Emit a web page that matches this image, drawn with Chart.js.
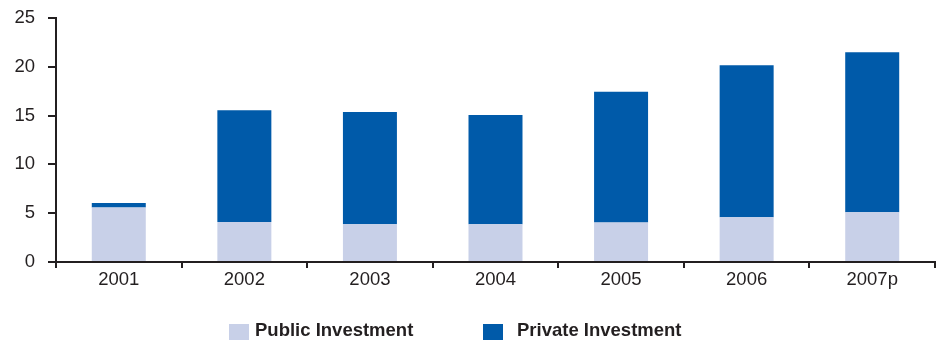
<!DOCTYPE html>
<html>
<head>
<meta charset="utf-8">
<script src="https://cdn.jsdelivr.net/npm/chart.js@4/dist/chart.umd.min.js"></script>
<style>
  html, body { margin: 0; padding: 0; background: #fff; }
  #wrap { width: 943px; height: 343px; }
</style>
</head>
<body>
<div id="wrap"><canvas id="invChart" width="943" height="343"></canvas></div>
<script>
const years = ['2001', '2002', '2003', '2004', '2005', '2006', '2007p'];
const publicInvestment = [5.58, 4.10, 3.87, 3.87, 4.04, 4.58, 5.10];
const privateInvestment = [0.47, 11.46, 11.51, 11.18, 13.40, 15.59, 16.40];
const yTicks = [0, 5, 10, 15, 20, 25];

const ink = '#231f20';
const fontFamily = '"Liberation Sans", Arial, sans-serif';

// legend drawn by hand so the two entries sit where we want them
const bottomLegend = {
  id: 'bottomLegend',
  afterDraw(chart) {
    const ctx = chart.ctx;
    const slots = [229, 483];
    const textGap = [26, 34];
    ctx.save();
    ctx.font = 'bold 18.5px ' + fontFamily;
    ctx.textBaseline = 'middle';
    chart.data.datasets.forEach((ds, i) => {
      const x = slots[i];
      const y = 331;
      ctx.fillStyle = ds.backgroundColor;
      ctx.fillRect(x, y - 7, 20, 16);
      ctx.fillStyle = ink;
      ctx.fillText(ds.label, x + textGap[i], y);
    });
    ctx.restore();
  }
};

new Chart(document.getElementById('invChart').getContext('2d'), {
  type: 'bar',
  data: {
    labels: years,
    datasets: [
      {
        label: 'Public Investment',
        data: publicInvestment,
        backgroundColor: '#c8d0e8',
        categoryPercentage: 1,
        barPercentage: 0.43
      },
      {
        label: 'Private Investment',
        data: privateInvestment,
        backgroundColor: '#005aa9',
        categoryPercentage: 1,
        barPercentage: 0.43
      }
    ]
  },
  options: {
    responsive: false,
    animation: false,
    layout: { padding: { top: 18, right: 8, bottom: 44, left: 0 } },
    plugins: {
      legend: { display: false },
      tooltip: { enabled: false }
    },
    scales: {
      x: {
        stacked: true,
        afterFit: s => { s.height = 37; },
        border: { color: ink, width: 2 },
        grid: {
          offset: true,
          drawOnChartArea: false,
          drawTicks: true,
          tickLength: 6,
          color: ink,
          lineWidth: 2
        },
        ticks: {
          color: ink,
          padding: 1,
          font: { family: fontFamily, size: 18.5 }
        }
      },
      y: {
        stacked: true,
        min: 0,
        max: 25,
        afterFit: s => {
          s.width = 56;
          s.paddingTop = 0;
          s.paddingBottom = 0;
        },
        afterBuildTicks: s => { s.ticks = yTicks.map(v => ({ value: v })); },
        border: { color: ink, width: 2 },
        grid: {
          drawOnChartArea: false,
          drawTicks: true,
          tickLength: 8,
          color: ink,
          lineWidth: 2
        },
        ticks: {
          color: ink,
          padding: 13,
          font: { family: fontFamily, size: 18.5 }
        }
      }
    }
  },
  plugins: [bottomLegend]
});
</script>
</body>
</html>
